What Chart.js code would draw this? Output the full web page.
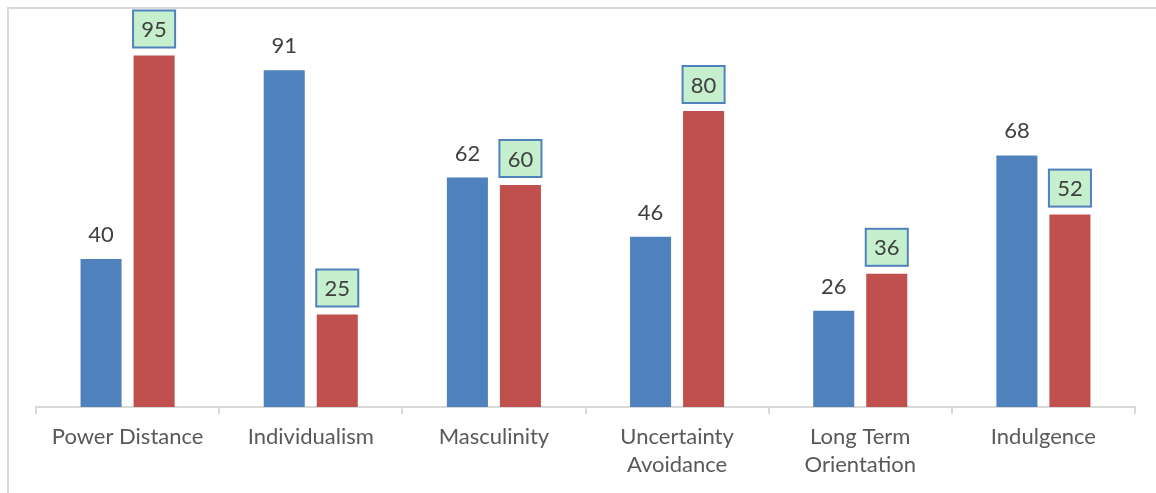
<!DOCTYPE html>
<html>
<head>
<meta charset="utf-8">
<script src="https://cdn.jsdelivr.net/npm/chart.js@4.4.1/dist/chart.umd.min.js"></script>
<style>
html,body{margin:0;padding:0;background:#fff;}
#wrap{position:relative;width:1156px;height:493px;}
canvas{position:absolute;left:0;top:0;}
</style>
</head>
<body>
<div id="wrap"><canvas id="c" width="1156" height="493"></canvas></div>
<script>
const categories = ["Power Distance", "Individualism", "Masculinity", ["Uncertainty", "Avoidance"], ["Long Term", "Orientation"], "Indulgence"];
const seriesA = [40, 91, 62, 46, 26, 68];
const seriesB = [95, 25, 60, 80, 36, 52];

const FONT = "Lato, 'Open Sans', sans-serif";

const frame = {
  id: 'frame',
  beforeDraw(chart) {
    const ctx = chart.ctx;
    ctx.save();
    ctx.strokeStyle = '#d9d9d9';
    ctx.lineWidth = 2;
    ctx.beginPath();
    ctx.moveTo(8, 493);
    ctx.lineTo(8, 8);
    ctx.lineTo(1156, 8);
    ctx.stroke();
    ctx.restore();
  }
};

const labels = {
  id: 'labels',
  afterDatasetsDraw(chart) {
    const ctx = chart.ctx;
    ctx.save();
    ctx.font = "22px " + FONT;
    ctx.textAlign = 'center';
    ctx.textBaseline = 'middle';
    chart.getDatasetMeta(0).data.forEach((bar, i) => {
      ctx.fillStyle = '#404040';
      ctx.fillText(String(seriesA[i]), bar.x, bar.y - 24);
    });
    chart.getDatasetMeta(1).data.forEach((bar, i) => {
      const w = bar.width + 1, h = 37;
      const bx = bar.x - w / 2, by = bar.y - 8 - h;
      ctx.fillStyle = '#c6efce';
      ctx.fillRect(bx, by, w, h);
      ctx.strokeStyle = '#4f81bd';
      ctx.lineWidth = 2;
      ctx.strokeRect(bx, by, w, h);
      ctx.fillStyle = '#404040';
      ctx.fillText(String(seriesB[i]), bar.x, by + h / 2 + 1);
    });
    ctx.restore();
  }
};

new Chart(document.getElementById('c'), {
  type: 'bar',
  data: {
    labels: categories,
    datasets: [
      { label: 'A', data: seriesA, backgroundColor: '#4f81bd', borderWidth: 0 },
      { label: 'B', data: seriesB, backgroundColor: '#c0504d', borderWidth: 0 }
    ]
  },
  options: {
    responsive: false,
    animation: false,
    devicePixelRatio: 1,
    layout: { padding: { left: 36, right: 21, top: 37, bottom: 0 } },
    datasets: { bar: { categoryPercentage: 0.579, barPercentage: 0.774 } },
    plugins: { legend: { display: false }, tooltip: { enabled: false } },
    scales: {
      y: { display: false, min: 0, max: 100 },
      x: {
        afterFit(s) { s.height = 86; },
        border: { display: true, color: '#d9d9d9', width: 2 },
        grid: { offset: true, drawOnChartArea: false, drawTicks: true, tickLength: 7, color: '#d9d9d9', lineWidth: 2 },
        ticks: { color: '#595959', font: { family: FONT, size: 22, lineHeight: 1.28 }, padding: 9, maxRotation: 0, autoSkip: false }
      }
    }
  },
  plugins: [frame, labels]
});
</script>
</body>
</html>
